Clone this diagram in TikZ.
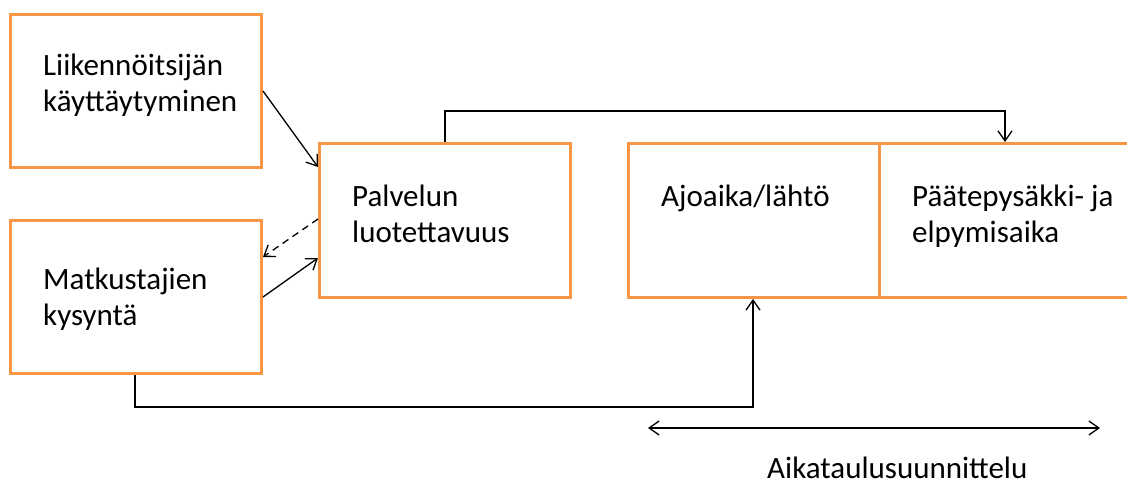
\documentclass[tikz,border=0pt]{standalone}
\usepackage{fontspec}
\setmainfont{Carlito}
\usetikzlibrary{arrows.meta,calc}
\definecolor{boxorange}{HTML}{F79646}
\begin{document}
\begin{tikzpicture}[x=1pt,y=-1pt,
  box/.style={draw=boxorange,line width=3pt,minimum width=#1,minimum height=154pt,inner sep=0pt,anchor=north west},
  box/.default=251pt,
  lbl/.style={anchor=base west,inner sep=0pt,align=left,font=\fontsize{31}{36}\selectfont},
  conn/.style={draw=black,line width=1.3pt,-{Straight Barb[length=10pt,width=14pt]}},
  line/.style={draw=black,line width=1.3pt}]
\useasboundingbox (0,0) rectangle (1127,484);
\node[box,minimum height=153pt] (b1) at (9,13) {};
\node[box,minimum height=153pt] (b2) at (9,219) {};
\node[box] (b3) at (318,142) {};
\node[box] (b4) at (627,142) {};
\node[box=262pt] (b5) at (878,142) {};
\node[lbl] (t1) at (43,112) {Liikennöitsijän\\käyttäytyminen};
\node[lbl] (t2) at (43,325) {Matkustajien\\kysyntä};
\node[lbl] (t3) at (352,242) {Palvelun\\luotettavuus};
\node[lbl] (t4) at (661,206) {Ajoaika/lähtö};
\node[lbl] (t5) at (912,242) {Päätepysäkki- ja\\elpymisaika};
\node[lbl] (t6) at (767,478) {Aikataulusuunnittelu};
\draw[conn] ($(b1.north east)+(0,78)$) -- ($(b3.north west)+(0,25)$);
\draw[conn,dashed,dash pattern=on 7pt off 5pt] ($(b3.north west)+(0,77)$) -- ($(b2.north east)+(0,38)$);
\draw[conn] ($(b2.north east)+(0,78)$) -- ($(b3.north west)+(0,116)$);
\draw[conn] ($(b3.north west)+(127,0)$) -- ++(0,-31) -| ($(b5.north west)+(127,0)$);
\draw[conn] ($(b2.south west)+(126,0)$) -- ++(0,32) -| ($(b4.south west)+(126,0)$);
\coordinate (dl) at (648,428);
\coordinate (dr) at (1100,428);
\draw[conn,{Straight Barb[length=10pt,width=14pt]}-{Straight Barb[length=10pt,width=14pt]}] (dl) -- (dr);
\end{tikzpicture}
\end{document}
